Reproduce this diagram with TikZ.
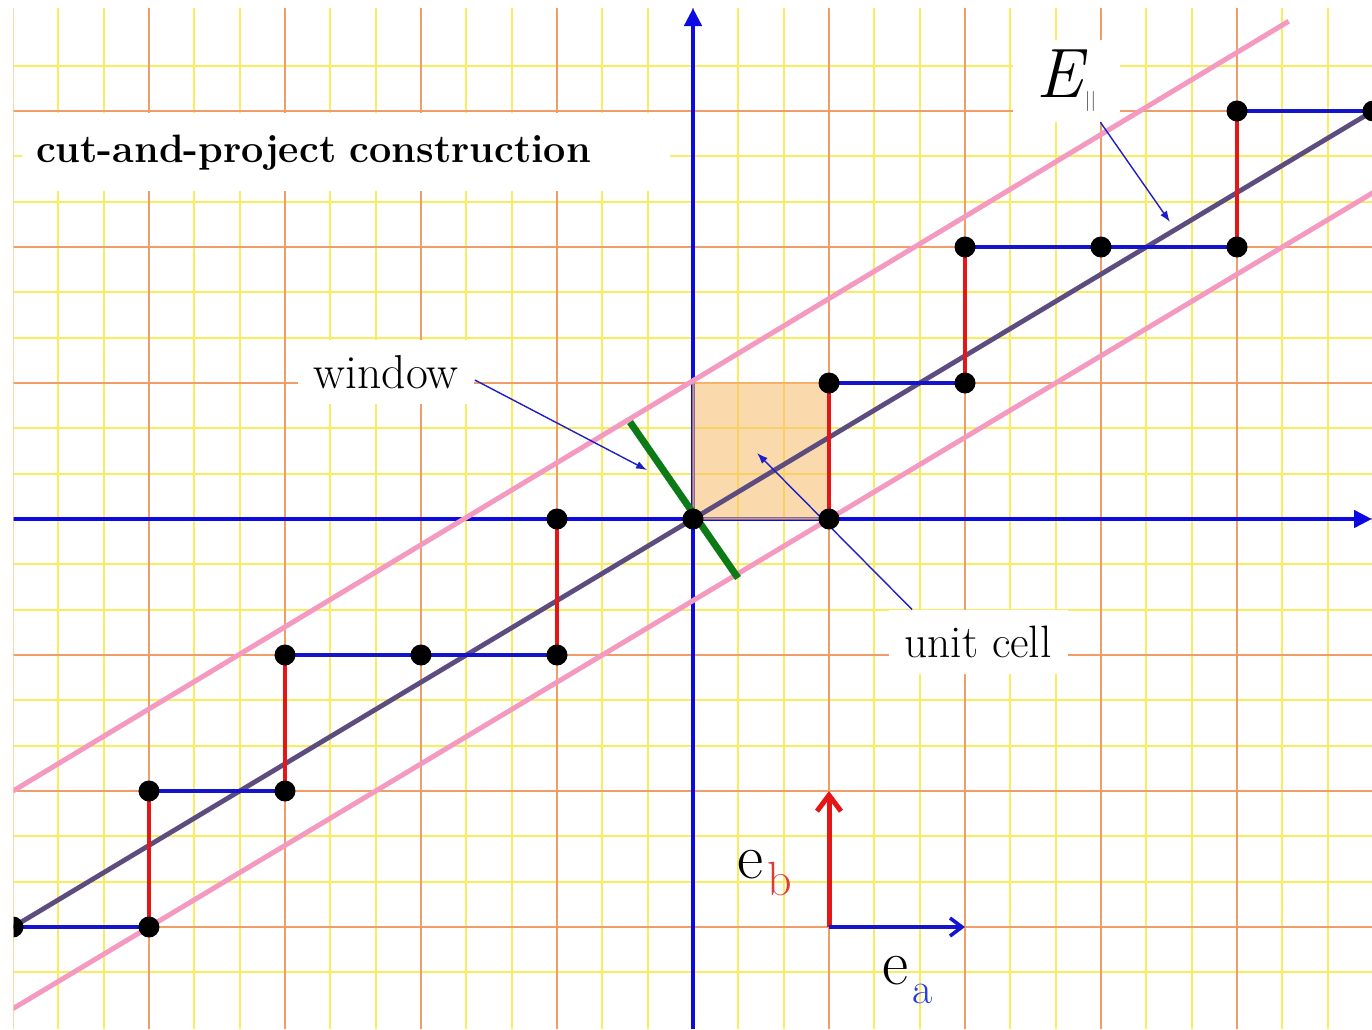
\documentclass[tikz,border=0pt]{standalone}
\usepackage{xcolor}
\usepackage{tikz}
\usetikzlibrary{arrows.meta,positioning,calc}

\definecolor{gridyel}{RGB}{249,236,95}
\definecolor{gridorg}{RGB}{240,158,105}
\definecolor{axisblue}{RGB}{10,10,225}
\definecolor{stepblue}{RGB}{20,20,205}
\definecolor{stepred}{RGB}{228,22,22}
\definecolor{stripink}{RGB}{244,154,192}
\definecolor{eparline}{RGB}{92,76,128}
\definecolor{wingreen}{RGB}{12,122,22}
\definecolor{cellfill}{RGB}{246,188,105}
\definecolor{ptrblue}{RGB}{30,30,200}
\definecolor{subred}{RGB}{222,60,50}
\definecolor{subblue}{RGB}{40,60,220}

\begin{document}
\begin{tikzpicture}[x=68pt,y=68pt,
  minor/.style={gridyel,line width=0.95pt},
  major/.style={gridorg,line width=0.9pt},
  axis/.style={axisblue,line width=2.4pt,-{Triangle[length=9pt,width=8.5pt]}},
  strip/.style={stripink,line width=2.5pt},
  epar/.style={eparline,line width=2.4pt},
  hstep/.style={stepblue,line width=1.7pt},
  vstep/.style={stepred,line width=1.8pt},
  win/.style={wingreen,line width=3.5pt},
  dot/.style={circle,fill=black,inner sep=0pt,minimum size=10.5pt},
  lbl/.style={fill=white,inner xsep=8pt,minimum height=32pt,
    font=\fontsize{22.7}{25}\selectfont},
  ptr/.style={ptrblue,line width=0.7pt,-{Latex[length=5.5pt,width=4pt]}},
  vecb/.style={stepred,line width=2.5pt,-{Straight Barb[length=8pt,width=12pt]}},
  veca/.style={stepblue,line width=1.8pt,-{Straight Barb[length=6pt,width=9pt]}}]
\useasboundingbox (-5.0956,-3.75) rectangle (4.9926,3.8162);
\begin{scope}
\clip (-4.995,-3.75) rectangle (4.9926,3.757);
% graph paper: thirds in yellow, whole units in orange
\foreach \k in {-15,...,14} \draw[minor] (\k/3,-3.75) -- (\k/3,3.76);
\foreach \k in {-10,...,10} \draw[minor] (-5,\k/3) -- (5,\k/3);
\foreach \k in {-5,...,4} \draw[major] (\k,-3.75) -- (\k,3.76);
\foreach \k in {-3,...,3} \draw[major] (-5,\k) -- (5,\k);
% labels on white patches
\node[lbl,font=\fontsize{19.8}{22}\selectfont\bfseries,text width=310pt,
  align=left,inner xsep=7pt,minimum height=39pt] (title) at (-2.551,2.695)
  {cut-and-project construction};
\node[lbl,font=\fontsize{23.8}{26}\selectfont] (window) at (-2.257,1.081) {window};
\node[lbl] (ucell) at (2.096,-0.904) {unit cell};
\node[fill=white,inner xsep=12pt,inner ysep=5pt,font=\fontsize{35}{35}\selectfont]
  (Epar) at (2.745,3.221) {\itshape E\hspace{1pt}\raisebox{-4.5pt}{\fontsize{10}{10}\selectfont\upshape\color{black!70}||}};
% lattice points along the staircase
\foreach \x/\y [count=\n] in {-5/-3,-4/-3,-4/-2,-3/-2,-3/-1,-2/-1,-1/-1,-1/0,
  0/0,1/0,1/1,2/1,2/2,3/2,4/2,4/3,5/3}
  \coordinate (s\n) at (\x,\y);
\coordinate (xl) at (-5,0); \coordinate (xr) at (4.9926,0);
\coordinate (yb) at (0,-3.75); \coordinate (yt) at (0,3.757);
% axes and unit cell
\draw[axis] (xl) -- (xr);
\draw[axis] (yb) -- (yt);
\filldraw[cellfill,opacity=0.55,line width=1.2pt] (s9) rectangle (s11);
% strip of the window and the line E
\coordinate (ua) at (-5,-2); \coordinate (ub) at (4.38,3.66);
\coordinate (la) at (-5,-3.6); \coordinate (lb) at (5,2.4);
\draw[strip] (ua) -- (ub);
\draw[strip] (la) -- (lb);
\draw[epar] (s1) -- (s17);
% staircase
\draw[hstep] (s1) -- (s2); \draw[hstep] (s3) -- (s4); \draw[hstep] (s5) -- (s7);
\draw[hstep] (s11) -- (s12); \draw[hstep] (s13) -- (s15); \draw[hstep] (s16) -- (s17);
\draw[vstep] (s2) -- (s3); \draw[vstep] (s4) -- (s5); \draw[vstep] (s7) -- (s8);
\draw[vstep] (s10) -- (s11); \draw[vstep] (s12) -- (s13); \draw[vstep] (s15) -- (s16);
% window
\coordinate (wa) at (-0.463,0.713); \coordinate (wb) at (0.331,-0.434);
\draw[win] (wa) -- (wb);
% pointers
\coordinate (winptr) at (-0.338,0.360);
\coordinate (cellptr) at (0.4706,0.4853);
\coordinate (Eptr) at (3.507,2.184);
\draw[ptr] ([yshift=-4pt]window.east) -- (winptr);
\draw[ptr] ([xshift=12pt]ucell.north west) -- (cellptr);
\draw[ptr] ([xshift=17pt]Epar.south) -- (Eptr);
\foreach \n in {1,...,17} \node[dot] (d\n) at (s\n) {};
% basis vectors
\coordinate (eo) at (1,-3); \coordinate (eb) at (1,-2); \coordinate (ea) at (2,-3);
\draw[vecb] (eo) -- (eb);
\draw[veca] (eo) -- (ea);
\node[anchor=base west,inner sep=0pt,font=\fontsize{32}{32}\selectfont] (ebl)
  at (0.325,-2.640) {e\hspace{2pt}\raisebox{-8.5pt}{\fontsize{24}{24}\selectfont\color{subred}b}};
\node[anchor=base west,inner sep=0pt,font=\fontsize{32}{32}\selectfont] (eal)
  at (1.390,-3.419) {e\hspace{2pt}\raisebox{-9.5pt}{\fontsize{22}{22}\selectfont\color{subblue}a}};
\end{scope}
\end{tikzpicture}
\end{document}
